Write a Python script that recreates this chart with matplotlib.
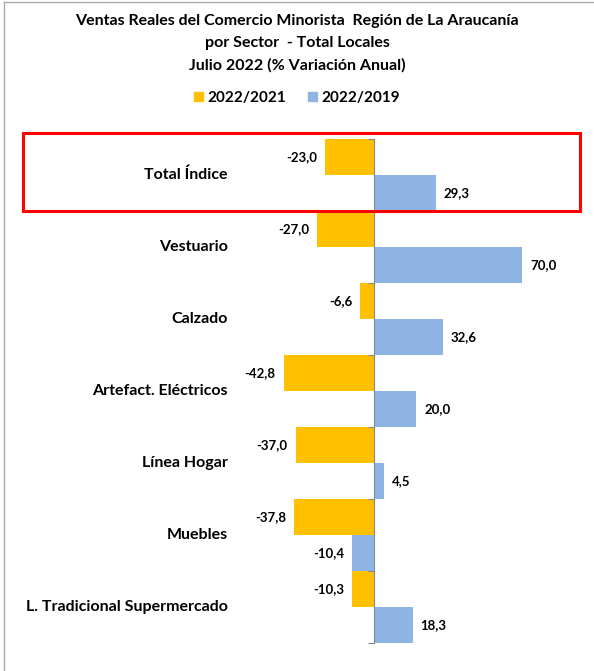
import matplotlib.pyplot as plt
from matplotlib.patches import Rectangle
from matplotlib.lines import Line2D
import numpy as np

plt.rcParams['font.family'] = ['Lato', 'DejaVu Sans']
plt.rcParams['font.weight'] = 'bold'

# === Dati ===
categorias = ["Total Índice", "Vestuario", "Calzado", "Artefact. Eléctricos",
              "Línea Hogar", "Muebles", "L. Tradicional Supermercado"]
var_2022_2021 = [-23.0, -27.0, -6.6, -42.8, -37.0, -37.8, -10.3]
var_2022_2019 = [29.3, 70.0, 32.6, 20.0, 4.5, -10.4, 18.3]
serie_labels = ["2022/2021", "2022/2019"]

amarillo = "#FFC000"
azul = "#8EB4E3"

W, H = 594, 671
fig = plt.figure(figsize=(W / 100, H / 100), dpi=100)

# axes: x da 20 a 580 px, y da 139 a 643 px (dall'alto)
ax = fig.add_axes([20 / W, (H - 643) / H, 560 / W, 504 / H])
esc = 2.114  # px per unita
ax.set_xlim(-(374 - 20) / esc, (580 - 374) / esc)
ax.set_ylim(6.5, -0.5)

y = np.arange(len(categorias))
ax.barh(y - 0.25, var_2022_2021, height=0.5, color=amarillo)
ax.barh(y + 0.25, var_2022_2019, height=0.5, color=azul)

# etichette valori
def fmt(v):
    return f"{v:.1f}".replace(".", ",")

off = 8 / esc
for yy, v in zip(y - 0.25, var_2022_2021):
    ax.text(v - off if v < 0 else v + off, yy, fmt(v), ha="right" if v < 0 else "left",
            va="center", fontsize=9.5, fontweight="bold")
for yy, v in zip(y + 0.25, var_2022_2019):
    ax.text(v - off if v < 0 else v + off, yy, fmt(v), ha="right" if v < 0 else "left",
            va="center", fontsize=9.5, fontweight="bold")

# categorie
for yy, c in zip(y, categorias):
    ax.text((228 - 374) / esc, yy, c, ha="right", va="center", fontsize=11.5, fontweight="bold")

# asse zero
for s in ["top", "right", "bottom"]:
    ax.spines[s].set_visible(False)
ax.spines["left"].set_position(("data", 0))
ax.spines["left"].set_color("#888888")
ax.set_yticks(np.arange(-0.5, 7, 1))
ax.set_yticklabels([])
ax.tick_params(axis="y", length=4, color="#888888", direction="out")
ax.set_xticks([])

# titolo
fig.text(0.5, 1 - 21 / H, "Ventas Reales del Comercio Minorista  Región de La Araucanía",
         ha="center", va="center", fontsize=11.5, fontweight="bold")
fig.text(0.5, 1 - 43 / H, "por Sector  - Total Locales",
         ha="center", va="center", fontsize=11.5, fontweight="bold")
fig.text(0.5, 1 - 65 / H, "Julio 2022 (% Variación Anual)",
         ha="center", va="center", fontsize=11.5, fontweight="bold")

# legenda
handles = [Rectangle((0, 0), 1, 1, color=amarillo), Rectangle((0, 0), 1, 1, color=azul)]
fig.legend(handles, serie_labels, loc="center", bbox_to_anchor=(0.5, 1 - 98 / H), ncol=2,
           frameon=False, fontsize=11, handlelength=0.6, handleheight=0.6,
           handletextpad=0.3, columnspacing=1.4)

# riquadro rosso
fig.patches.append(Rectangle((23 / W, 1 - 211 / H), 557 / W, 78 / H, transform=fig.transFigure,
                             fill=False, edgecolor="#FF0000", linewidth=2.2, zorder=5))
# bordo grigio
fig.add_artist(Line2D([4 / W, 4 / W], [0, 1 - 2 / H], color="#AAAAAA", linewidth=1))
fig.add_artist(Line2D([4 / W, 1], [1 - 2 / H, 1 - 2 / H], color="#AAAAAA", linewidth=1))

fig.savefig("out.png", dpi=100)
